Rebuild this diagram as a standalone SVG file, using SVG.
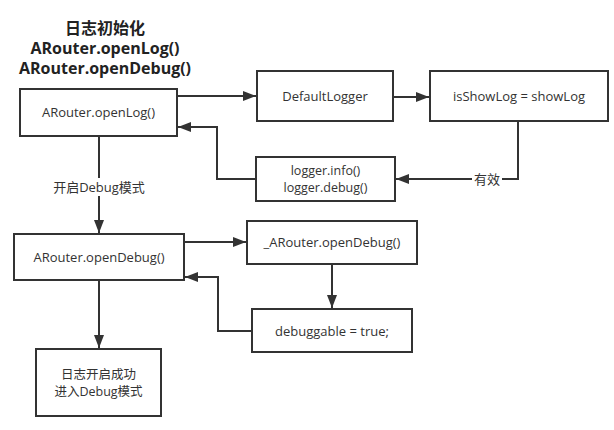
<svg xmlns="http://www.w3.org/2000/svg" width="614" height="430" viewBox="0 0 614 430">
<style>
.box{fill:#fff;stroke:#333;stroke-width:2}
.ln{fill:none;stroke:#333;stroke-width:2}
.t{font-family:"Open Sans","Noto Sans CJK SC",sans-serif;font-size:13px;fill:#333;text-anchor:middle}
.s{font-size:12.5px}
.h{font-family:"Open Sans","Noto Sans CJK SC",sans-serif;font-size:16px;font-weight:bold;fill:#222;text-anchor:middle}
</style>
<defs>
<marker id="ar" markerUnits="userSpaceOnUse" markerWidth="14" markerHeight="12" refX="13" refY="6" orient="auto">
<path d="M0,1 L13,6 L0,11 z" fill="#333"/>
</marker>
</defs>
<rect width="614" height="430" fill="#fff"/>
<g id="title">
<text class="h" x="105" y="34">日志初始化</text>
<text class="h" x="105" y="54">ARouter.openLog()</text>
<text class="h" x="105" y="74">ARouter.openDebug()</text>
</g>
<g id="connectors">
<path class="ln" d="M177,96 H256" marker-end="url(#ar)"/>
<path class="ln" d="M393,97 H429" marker-end="url(#ar)"/>
<path class="ln" d="M518,121 V179 H396" marker-end="url(#ar)"/>
<path class="ln" d="M256,179 H217 V127 H178" marker-end="url(#ar)"/>
<path class="ln" d="M99,136 V233" marker-end="url(#ar)"/>
<path class="ln" d="M184,242 H246" marker-end="url(#ar)"/>
<path class="ln" d="M332,264 V308" marker-end="url(#ar)"/>
<path class="ln" d="M252,331 H218 V277 H185" marker-end="url(#ar)"/>
<path class="ln" d="M99,280 V348" marker-end="url(#ar)"/>
<rect x="472" y="171" width="30" height="16" fill="#fff"/>
<text class="t" x="487" y="184">有效</text>
<rect x="50" y="178" width="98" height="18" fill="#fff"/>
<text class="t" x="99" y="192">开启Debug模式</text>
</g>
<g id="openLog">
<rect class="box" x="20" y="89" width="157" height="47"/>
<text class="t" x="98.5" y="117">ARouter.openLog()</text>
</g>
<g id="defaultLogger">
<rect class="box" x="257" y="71" width="136" height="50"/>
<text class="t" x="325" y="101">DefaultLogger</text>
</g>
<g id="isShowLog">
<rect class="box" x="430" y="71" width="178" height="50"/>
<text class="t" x="519" y="101">isShowLog = showLog</text>
</g>
<g id="logger">
<rect class="box" x="256" y="157" width="139" height="44"/>
<text class="t s" x="325.5" y="175">logger.info()</text>
<text class="t s" x="325.5" y="192">logger.debug()</text>
</g>
<g id="openDebug">
<rect class="box" x="14" y="234" width="170" height="46"/>
<text class="t" x="99" y="262">ARouter.openDebug()</text>
</g>
<g id="innerOpenDebug">
<rect class="box" x="247" y="221" width="170" height="43"/>
<text class="t" x="332" y="247">_ARouter.openDebug()</text>
</g>
<g id="debuggable">
<rect class="box" x="252" y="309" width="160" height="43"/>
<text class="t" x="332" y="336">debuggable = true;</text>
</g>
<g id="done">
<rect class="box" x="36" y="349" width="125" height="67"/>
<text class="t s" x="98.5" y="379">日志开启成功</text>
<text class="t s" x="98.5" y="396">进入Debug模式</text>
</g>
</svg>
